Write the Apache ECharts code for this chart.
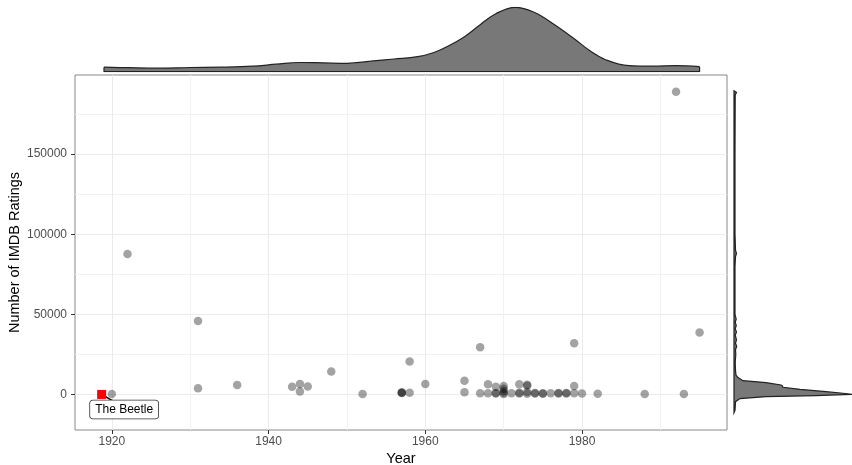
<!DOCTYPE html>
<html>
<head>
<meta charset="utf-8">
<script src="https://cdn.jsdelivr.net/npm/echarts@6/dist/echarts.min.js"></script>
<style>
  html, body { margin: 0; padding: 0; background: #fff; }
  #chart { width: 852px; height: 465px; }
</style>
</head>
<body>
<div id="chart"></div>
<script>
// films: release year and number of IMDB ratings
const years = [1920, 1922, 1931, 1931, 1936, 1943, 1944, 1944, 1945, 1948, 1952,
  1957, 1957, 1957, 1958, 1958, 1960, 1965, 1965, 1967, 1967, 1968, 1968,
  1969, 1969, 1969, 1970, 1970, 1970, 1970, 1970, 1971, 1972, 1972, 1972,
  1973, 1973, 1973, 1973, 1974, 1974, 1975, 1975, 1976, 1977, 1977, 1978, 1978,
  1979, 1979, 1979, 1980, 1982, 1988, 1992, 1993, 1995]
const ratings = [300, 87600, 3900, 45900, 5900, 4800, 6500, 1800, 4900, 14300, 300,
  900, 1100, 1300, 1100, 20500, 6500, 1400, 8600, 750, 29500, 750, 6400,
  600, 900, 4800, 300, 1000, 2200, 3600, 5200, 700, 600, 1000, 6400,
  500, 1500, 5500, 6000, 600, 900, 500, 800, 700, 600, 900, 600, 900,
  700, 5300, 32000, 600, 500, 200, 189000, 200, 38600]

// highlighted film
const hlName = 'The Beetle'
const hlYear = 1918.7
const hlRating = 0

// top marginal density of year (relative height)
const topYears = [1919, 1922, 1926, 1930, 1934, 1938, 1941, 1944, 1947, 1950, 1953, 1956,
  1959, 1961, 1963, 1965, 1967, 1969, 1971.5, 1974, 1976.5, 1979, 1981, 1983, 1986, 1989, 1992, 1995]
const topDensity = [4.5, 4.0, 3.5, 4.2, 4.5, 5.5, 7.5, 9.2, 8.8, 8.4, 10.5, 12.7,
  15, 19, 26, 35, 47, 58, 64.4, 59, 47, 33, 21, 12, 6, 5.5, 6, 5]

// right marginal density of ratings (relative width)
const rightRatings = [189500, 188500, 187000, 150000, 100000, 90000, 88000, 86000, 80000,
  50000, 47000, 45000, 43000, 41000, 39000, 37000, 34000, 32000, 30000, 28000, 25000,
  20000, 15000, 12000, 10500, 8600, 7400, 5900, 5600, 4500, 3200, 1750, 750, 100,
  -700, -1400, -2600, -4500, -10000, -11500]
const rightDensity = [0, 2.5, 1.2, 1.0, 1.0, 1.5, 2.5, 1.5, 1.0,
  1.0, 2.2, 1.2, 2.3, 1.2, 2.5, 1.3, 2.5, 1.5, 2.7, 1.5, 1.8,
  1.2, 1.5, 2, 4, 9, 32, 47, 48, 49, 66, 92, 109, 118,
  82, 32, 6, 1.5, 1, 0]

const xTicks = [1920, 1940, 1960, 1980]
const xMinor = [1930, 1950, 1970, 1990]
const yTicks = [0, 50000, 100000, 150000]
const yMinor = [25000, 75000, 125000, 175000]

const X_MIN = 1915.3, X_MAX = 1998.5
const Y_MIN = -22200, Y_MAX = 199400
const FONT = 'Liberation Sans, Arial, sans-serif'
const FILL = '#787878'

const hidden = { show: false }
const noLine = { show: false, onZero: false }

const chart = echarts.init(document.getElementById('chart'), null, { renderer: 'canvas' })

// red square + repel-style label box for the highlighted film
function renderHighlight(params, api) {
  const [cx, cy] = api.coord([api.value(0), api.value(1)])
  return {
    type: 'group',
    children: [
      { type: 'line', shape: { x1: cx, y1: cy, x2: cx + 12, y2: cy + 7 },
        style: { stroke: '#000', lineWidth: 1.3 }, z2: 1 },
      { type: 'rect', shape: { x: cx - 4.5, y: cy - 4.5, width: 9, height: 9 },
        style: { fill: '#ff0000' }, z2: 2 },
      { type: 'text', x: cx + 22.5, y: cy + 15, z2: 3,
        style: {
          text: hlName, align: 'center', verticalAlign: 'middle',
          fill: '#000', font: '12px ' + FONT,
          backgroundColor: '#fff', borderColor: '#333', borderWidth: 0.8, borderRadius: 3,
          padding: [3, 5]
        } }
    ]
  }
}

chart.setOption({
  animation: false,
  textStyle: { fontFamily: FONT },
  grid: [
    { left: 75, top: 75, width: 652, height: 355, show: true, borderColor: '#888', borderWidth: 1,
      backgroundColor: '#fff', outerBoundsMode: 'none', containLabel: false },
    { left: 75, top: 7.3, width: 652, height: 64.4, outerBoundsMode: 'none', containLabel: false },
    { left: 734, top: 75, width: 118, height: 355, outerBoundsMode: 'none', containLabel: false }
  ],
  xAxis: [
    {
      type: 'value', gridIndex: 0, min: X_MIN, max: X_MAX,
      name: 'Year', nameLocation: 'middle', nameGap: 21, nameMoveOverlap: false,
      nameTextStyle: { color: '#000', fontSize: 14.5, fontFamily: FONT },
      axisLine: noLine,
      axisTick: { show: true, length: 4, customValues: xTicks, lineStyle: { color: '#333' } },
      axisLabel: { customValues: xTicks, margin: 6, color: '#4d4d4d', fontSize: 12, fontFamily: FONT, formatter: v => String(v) },
      splitLine: { show: true, lineStyle: { color: '#ebebeb', width: 1 } }
    },
    {
      type: 'value', gridIndex: 0, min: X_MIN, max: X_MAX,
      axisLine: noLine, axisLabel: hidden,
      axisTick: { show: false, customValues: xMinor },
      splitLine: { show: true, lineStyle: { color: '#f2f2f2', width: 1 } }
    },
    { type: 'value', gridIndex: 1, min: X_MIN, max: X_MAX, show: false },
    { type: 'value', gridIndex: 2, min: 0, max: 118, show: false }
  ],
  yAxis: [
    {
      type: 'value', gridIndex: 0, min: Y_MIN, max: Y_MAX,
      name: 'Number of IMDB Ratings', nameLocation: 'middle', nameGap: 53, nameMoveOverlap: false,
      nameTextStyle: { color: '#000', fontSize: 14.5, fontFamily: FONT },
      axisLine: noLine,
      axisTick: { show: true, length: 4, customValues: yTicks, lineStyle: { color: '#333' } },
      axisLabel: { customValues: yTicks, margin: 8, color: '#4d4d4d', fontSize: 12, fontFamily: FONT, formatter: v => String(v) },
      splitLine: { show: true, lineStyle: { color: '#ebebeb', width: 1 } }
    },
    {
      type: 'value', gridIndex: 0, min: Y_MIN, max: Y_MAX,
      axisLine: noLine, axisLabel: hidden,
      axisTick: { show: false, customValues: yMinor },
      splitLine: { show: true, lineStyle: { color: '#f2f2f2', width: 1 } }
    },
    { type: 'value', gridIndex: 1, min: 0, max: 64.4, show: false },
    { type: 'value', gridIndex: 2, min: Y_MIN, max: Y_MAX, show: false }
  ],
  series: [
    {
      type: 'scatter', xAxisIndex: 0, yAxisIndex: 0,
      data: years.map((y, i) => [y, ratings[i]]),
      symbolSize: 8.5,
      itemStyle: { color: 'rgba(0,0,0,0.45)' },
      z: 3
    },
    {
      type: 'custom', xAxisIndex: 0, yAxisIndex: 0,
      data: [[hlYear, hlRating]],
      encode: { x: 0, y: 1 },
      renderItem: renderHighlight,
      z: 4
    },
    {
      type: 'line', xAxisIndex: 2, yAxisIndex: 2,
      data: topYears.map((y, i) => [y, topDensity[i]]),
      smooth: 0.4, showSymbol: false,
      lineStyle: { color: '#222', width: 1.2 },
      areaStyle: { color: FILL, opacity: 1 }
    },
    {
      type: 'line', xAxisIndex: 2, yAxisIndex: 2,
      data: [[topYears[0], topDensity[0]], [topYears[0], 0],
        [topYears[topYears.length - 1], 0], [topYears[topYears.length - 1], topDensity[topDensity.length - 1]]],
      showSymbol: false,
      lineStyle: { color: '#222', width: 1.2 }
    },
    {
      type: 'custom', xAxisIndex: 3, yAxisIndex: 3,
      data: rightRatings.map((r, i) => [rightDensity[i], r]),
      encode: { x: 0, y: 1 },
      renderItem: (params, api) => {
        if (params.dataIndex !== 0) return null
        const pts = rightRatings.map((r, i) => api.coord([rightDensity[i], r]))
        return {
          type: 'polygon',
          shape: { points: pts },
          style: { fill: FILL, stroke: '#222', lineWidth: 1.2 }
        }
      }
    }
  ]
})
</script>
</body>
</html>
